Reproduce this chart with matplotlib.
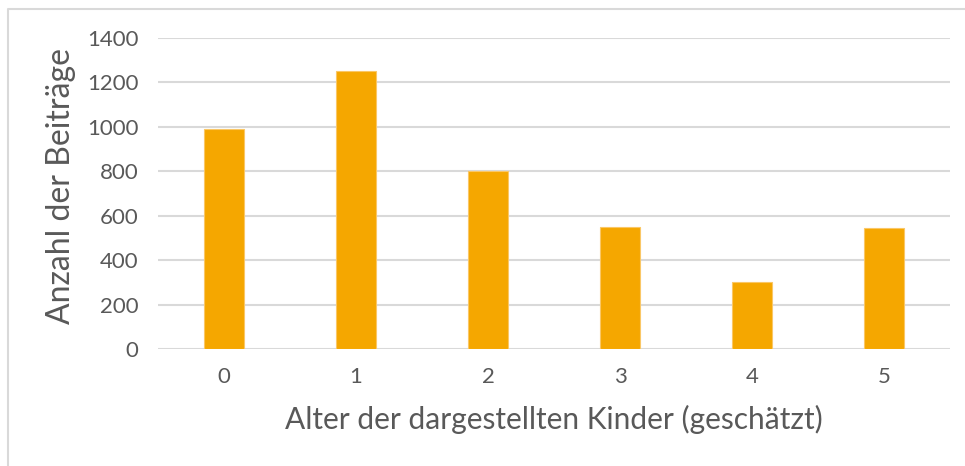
import matplotlib.pyplot as plt
from matplotlib.lines import Line2D

alter = ['0', '1', '2', '3', '4', '5']
anzahl = [990, 1250, 800, 550, 300, 545]
y_ticks = [0, 200, 400, 600, 800, 1000, 1200, 1400]

plt.rcParams['font.family'] = ['Lato', 'DejaVu Sans']
textfarbe = '#595959'

fig = plt.figure(figsize=(9.65, 4.66), dpi=100)
ax = fig.add_axes([0.1637, 0.2511, 0.8208, 0.6674])

# heller Rahmen (nur links und oben sichtbar)
rx, ry = 7.5 / 965, 1 - 8.5 / 466
fig.lines.append(Line2D([rx, rx, 1.0], [0, ry, ry], transform=fig.transFigure,
                        color='#d9d9d9', linewidth=1.5))

x = range(len(alter))
ax.bar(x, anzahl, width=0.31, color='#f5a700', edgecolor='#fac766', linewidth=0.8, zorder=3)

ax.set_xlim(-0.5, len(alter) - 0.5)
ax.set_ylim(0, 1400)
ax.set_xticks(list(x))
ax.set_xticklabels(alter)
ax.set_yticks(y_ticks)
ax.yaxis.grid(True, color='#d9d9d9', linewidth=1.5, zorder=0)
ax.set_axisbelow(True)

for s in ax.spines.values():
    s.set_visible(False)
ax.tick_params(length=0, labelsize=16, colors=textfarbe)
ax.tick_params(axis='y', pad=14)
ax.tick_params(axis='x', pad=13)

ax.set_xlabel('Alter der dargestellten Kinder (geschätzt)', fontsize=21.5, color=textfarbe, labelpad=13)
ax.set_ylabel('Anzahl der Beiträge', fontsize=23, color=textfarbe)
ax.yaxis.set_label_coords(-0.103, 0.525)

plt.savefig('out.png', dpi=100)
